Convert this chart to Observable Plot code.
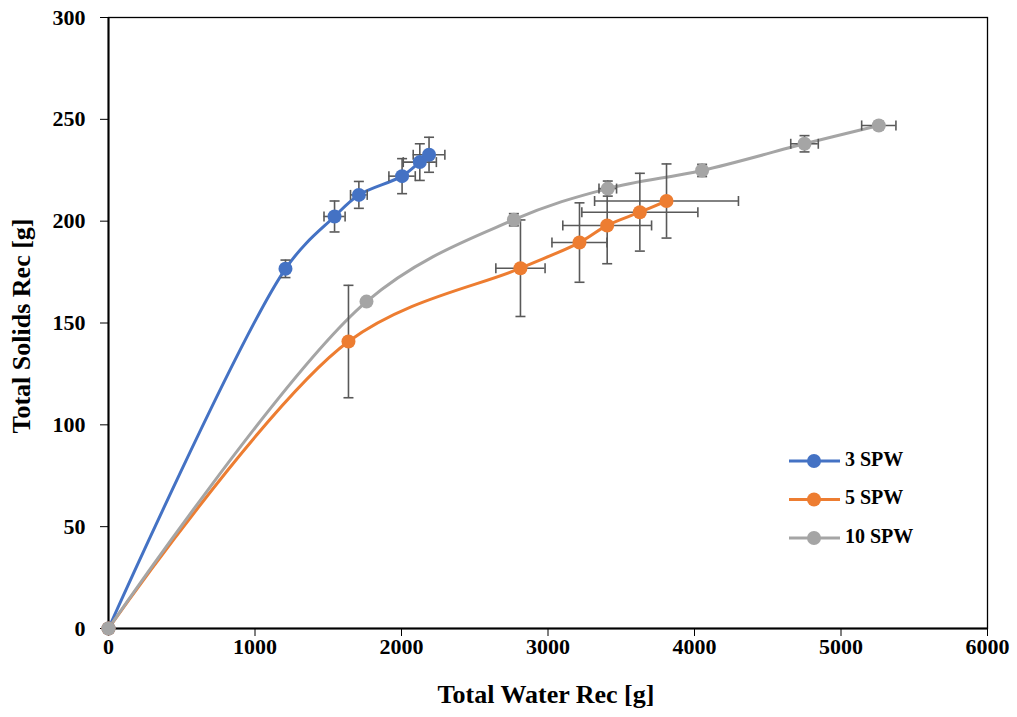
<!DOCTYPE html>
<html><head><meta charset="utf-8">
<script src="https://cdn.jsdelivr.net/npm/d3@7"></script>
<script src="https://cdn.jsdelivr.net/npm/@observablehq/plot@0.6"></script>
<style>body{margin:0;background:#fff} #chart{width:1017px;height:717px}</style>
</head><body><div id="chart"></div>
<script>
const seriesNames = ["3 SPW", "5 SPW", "10 SPW"];
const seriesColors = ["#4472C4", "#ED7D31", "#A5A5A5"];

// 3 SPW
const water3 = [0, 1208, 1543, 1709, 2004, 2125, 2188];
const solids3 = [0, 176.6, 202.3, 212.9, 222.1, 229.0, 232.6];
const waterErr3 = [0, 0, 72, 57, 90, 113, 108];
const solidsErr3 = [0, 4.3, 7.6, 6.6, 8.6, 9.0, 8.6];
// 5 SPW
const water5 = [0, 1638, 2812, 3215, 3404, 3627, 3809];
const solids5 = [0, 140.9, 176.9, 189.5, 197.9, 204.4, 209.9];
const waterErr5 = [0, 0, 168, 188, 303, 396, 491];
const solidsErr5 = [0, 27.6, 23.7, 19.5, 18.8, 19.1, 18.2];
// 10 SPW
const water10 = [0, 1761, 2767, 3408, 4052, 4751, 5258];
const solids10 = [0, 160.5, 200.7, 216.0, 224.9, 238.0, 247.0];
const waterErr10 = [0, 0, 25, 60, 25, 94, 117];
const solidsErr10 = [0, 0, 3, 3.7, 3, 4, 2];

const xTicks = [0, 1000, 2000, 3000, 4000, 5000, 6000];
const yTicks = [0, 50, 100, 150, 200, 250, 300];

const src = [
  [water3, solids3, waterErr3, solidsErr3],
  [water5, solids5, waterErr5, solidsErr5],
  [water10, solids10, waterErr10, solidsErr10]
];
const rows = [];
src.forEach(([xs, ys, xe, ye], i) => {
  xs.forEach((x, j) => rows.push({series: seriesNames[i], water: x, solids: ys[j], xe: xe[j], ye: ye[j]}));
});
const yErrRows = rows.filter(d => d.ye > 0);
const xErrRows = rows.filter(d => d.xe > 0);

const hcap = {draw(ctx, size) { const w = Math.sqrt(size / Math.PI); ctx.moveTo(-w, 0); ctx.lineTo(w, 0); }};
const vcap = {draw(ctx, size) { const w = Math.sqrt(size / Math.PI); ctx.moveTo(0, -w); ctx.lineTo(0, w); }};

const font = "'Liberation Serif', 'Times New Roman', serif";
const errColor = "#595959";

const marks = [
  Plot.frame({stroke: "#000", strokeWidth: 1.3}),
  Plot.axisX({ticks: xTicks, tickSize: 8, tickPadding: 2, tickFormat: d => String(d), label: null, fontSize: 22, fontWeight: "bold"}),
  Plot.axisY({ticks: yTicks, tickSize: 8, tickPadding: 15, tickFormat: d => String(d), label: null, fontSize: 22, fontWeight: "bold"}),
  Plot.ruleX([0], {stroke: "#000", strokeWidth: 2}),
  Plot.ruleY([0], {stroke: "#000", strokeWidth: 2}),
  Plot.line(rows, {x: "water", y: "solids", z: "series", stroke: "series", strokeWidth: 3, curve: "catmull-rom"})
];
seriesNames.forEach(name => {
  const f = d => d.series === name;
  const ye = yErrRows.filter(f), xe = xErrRows.filter(f), pts = rows.filter(f);
  marks.push(
    Plot.ruleX(ye, {x: "water", y1: d => d.solids - d.ye, y2: d => d.solids + d.ye, stroke: errColor, strokeWidth: 1.6}),
    Plot.dot(ye, {x: "water", y: d => d.solids - d.ye, symbol: hcap, r: 5, fill: "none", stroke: errColor, strokeWidth: 1.6}),
    Plot.dot(ye, {x: "water", y: d => d.solids + d.ye, symbol: hcap, r: 5, fill: "none", stroke: errColor, strokeWidth: 1.6}),
    Plot.ruleY(xe, {y: "solids", x1: d => d.water - d.xe, x2: d => d.water + d.xe, stroke: errColor, strokeWidth: 1.6}),
    Plot.dot(xe, {y: "solids", x: d => d.water - d.xe, symbol: vcap, r: 5, fill: "none", stroke: errColor, strokeWidth: 1.6}),
    Plot.dot(xe, {y: "solids", x: d => d.water + d.xe, symbol: vcap, r: 5, fill: "none", stroke: errColor, strokeWidth: 1.6}),
    Plot.dot(pts, {x: "water", y: "solids", fill: "series", r: 7, stroke: "none"})
  );
});

const plot = Plot.plot({
  width: 1017, height: 717,
  marginLeft: 108, marginRight: 30, marginTop: 17, marginBottom: 89,
  style: {fontFamily: font, fontWeight: "bold", fontSize: "22px", color: "#000", background: "#fff", overflow: "visible"},
  x: {domain: [0, 6000]},
  y: {domain: [0, 300]},
  color: {domain: seriesNames, range: seriesColors},
  marks
});
document.getElementById("chart").appendChild(plot);

const svg = d3.select(plot);
svg.append("text").attr("x", 546).attr("y", 697).attr("text-anchor", "middle").attr("dominant-baseline", "middle")
  .attr("font-family", font).attr("font-weight", "bold").attr("font-size", 26).attr("fill", "#000").text("Total Water Rec [g]");
svg.append("text").attr("transform", "translate(24,326) rotate(-90)").attr("text-anchor", "middle").attr("dominant-baseline", "middle")
  .attr("font-family", font).attr("font-weight", "bold").attr("font-size", 26).attr("fill", "#000").text("Total Solids Rec [g]");

const lg = svg.append("g");
seriesNames.forEach((name, i) => {
  const y = 461 + i * 38.5;
  lg.append("line").attr("x1", 789).attr("x2", 840).attr("y1", y).attr("y2", y).attr("stroke", seriesColors[i]).attr("stroke-width", 3);
  lg.append("circle").attr("cx", 814).attr("cy", y).attr("r", 7).attr("fill", seriesColors[i]);
  lg.append("text").attr("x", 845).attr("y", y).attr("text-anchor", "start").attr("dominant-baseline", "middle").attr("font-family", font)
    .attr("font-weight", "bold").attr("font-size", 20).attr("fill", "#000").text(name);
});
</script></body></html>
